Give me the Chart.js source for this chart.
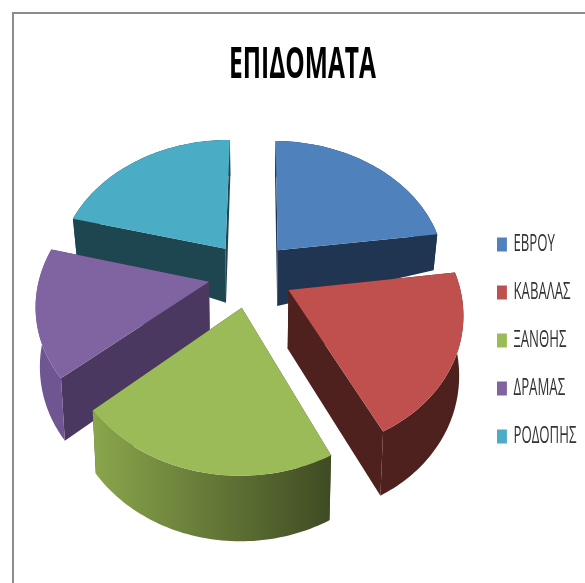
<!DOCTYPE html>
<html>
<head>
<meta charset="utf-8">
<style>
    html, body { margin: 0; padding: 0; background: #fff; overflow: hidden; }
    #frame { position: absolute; left: 12px; top: 12px; width: 600px; height: 600px; border-top: 2px solid #8c8c8c; border-left: 2px solid #8c8c8c; }
    #chart { position: absolute; left: 0; top: 0; }
</style>
</head>
<body>
<div id="frame"></div>
<canvas id="chart" width="585" height="583"></canvas>
<script src="https://cdn.jsdelivr.net/npm/chart.js@4/dist/chart.umd.min.js"></script>
<script>
const titleText = "ΕΠΙΔΟΜΑΤΑ";
const regions = ["ΕΒΡΟΥ", "ΚΑΒΑΛΑΣ", "ΞΑΝΘΗΣ", "ΔΡΑΜΑΣ", "ΡΟΔΟΠΗΣ"];
const values = [82, 71, 76, 55, 76];

const topColors = ["#4f81bd", "#c0504d", "#9bbb59", "#8064a2", "#4bacc6"];
const sideColors = ["#1f3552", "#4e201e", "#3f4b23", "#4a3860", "#1e4650"];
const rimLeftColors = ["#1f3552", "#4e201e", "#8aa64c", "#6f5592", "#1e4650"];
const rimRightColors = ["#1f3552", "#4e201e", "#3f4b23", "#6f5592", "#1e4650"];

// camera for the tilted pie, fitted by eye
const view = { cx: 250.5, cy: 274.3, a: 169, b: 132, p: 0.148, explode: 0.25 };

function project(x, y) {
    const w = 1 - view.p * y;
    return [view.cx + view.a * x / w, view.cy + view.b * y / w];
}

function wallDepth(y) {
    if (y < -0.3) return 36;
    if (y < -0.18) return 36 + (y + 0.3) * 175;
    return 57 + (y + 0.18) * 6;
}

function dropPoint(x, y) {
    const [sx, sy] = project(x, y);
    return [sx - (sx - view.cx) * 0.02, sy + wallDepth(y)];
}

function fillShape(ctx, points, fill) {
    ctx.beginPath();
    points.forEach(([px, py], i) => (i ? ctx.lineTo(px, py) : ctx.moveTo(px, py)));
    ctx.closePath();
    ctx.fillStyle = fill;
    ctx.fill();
}

function drawSlice(ctx, arc, index) {
    const mid = (arc.startAngle + arc.endAngle) / 2;
    const ox = Math.cos(mid) * view.explode;
    const oy = Math.sin(mid) * view.explode;
    const rim = [];
    const steps = 60;
    for (let i = 0; i <= steps; i++) {
        const t = arc.startAngle + (arc.endAngle - arc.startAngle) * i / steps;
        rim.push([ox + Math.cos(t), oy + Math.sin(t)]);
    }

    const topApex = project(ox, oy);
    const lowApex = dropPoint(ox, oy);
    const topRim = rim.map(([x, y]) => project(x, y));
    const lowRim = rim.map(([x, y]) => dropPoint(x, y));

    fillShape(ctx, [topApex, topRim[0], lowRim[0], lowApex], sideColors[index]);
    fillShape(ctx, [topApex, topRim[steps], lowRim[steps], lowApex], sideColors[index]);

    const xs = topRim.map((p) => p[0]);
    const rimFill = ctx.createLinearGradient(Math.min(...xs), 0, Math.max(...xs), 0);
    rimFill.addColorStop(0, rimLeftColors[index]);
    rimFill.addColorStop(1, rimRightColors[index]);
    fillShape(ctx, topRim.concat(lowRim.slice().reverse()), rimFill);

    fillShape(ctx, [topApex].concat(topRim), topColors[index]);
}

// the reference text is a narrow face stretched tall, none is installed so squeeze it
function squeezeBox(box, getMatrix) {
    const originalDraw = box.draw;
    box.draw = function (area) {
        const ctx = this.ctx;
        ctx.save();
        ctx.transform(...getMatrix(this));
        originalDraw.call(this, area);
        ctx.restore();
    };
}

const titleSqueeze = 0.57;
const legendSqueeze = 0.55;
const legendLeft = 497;
const legendShiftY = 49;

const pie3d = {
    id: "pie3d",
    afterLayout(chart) {
        if (chart.$squeezed) return;
        chart.$squeezed = true;
        squeezeBox(chart.titleBlock, (box) => {
            const mid = (box.left + box.right) / 2;
            return [titleSqueeze, 0, 0, 1, mid * (1 - titleSqueeze), 0];
        });
        squeezeBox(chart.legend, (box) => {
            const itemLeft = box.legendHitBoxes[0].left;
            return [legendSqueeze, 0, 0, 1, legendLeft - itemLeft * legendSqueeze, legendShiftY];
        });
    },
    beforeDatasetsDraw(chart) {
        const arcs = chart.getDatasetMeta(0).data;
        const order = arcs.map((arc, i) => i).sort((i, j) => {
            const a = arcs[i], b = arcs[j];
            return Math.sin((a.startAngle + a.endAngle) / 2) - Math.sin((b.startAngle + b.endAngle) / 2);
        });
        order.forEach((i) => drawSlice(chart.ctx, arcs[i], i));
        return false;
    }
};

new Chart(document.getElementById("chart"), {
    type: "pie",
    data: {
        labels: regions,
        datasets: [{
            data: values,
            backgroundColor: topColors,
            borderWidth: 0
        }]
    },
    options: {
        responsive: false,
        animation: false,
        rotation: 0.5,
        layout: { padding: { left: 20, right: 0, top: 0, bottom: 0 } },
        plugins: {
            title: {
                display: true,
                text: titleText,
                color: "#000",
                font: { family: "'Open Sans'", size: 43, weight: "bold" },
                padding: { top: 40, bottom: 15 }
            },
            legend: {
                position: "right",
                labels: {
                    boxWidth: 18,
                    boxHeight: 14,
                    padding: 24,
                    color: "#333",
                    font: { family: "'Open Sans'", size: 24 }
                }
            },
            tooltip: { enabled: false }
        }
    },
    plugins: [pie3d]
});
</script>
</body>
</html>
